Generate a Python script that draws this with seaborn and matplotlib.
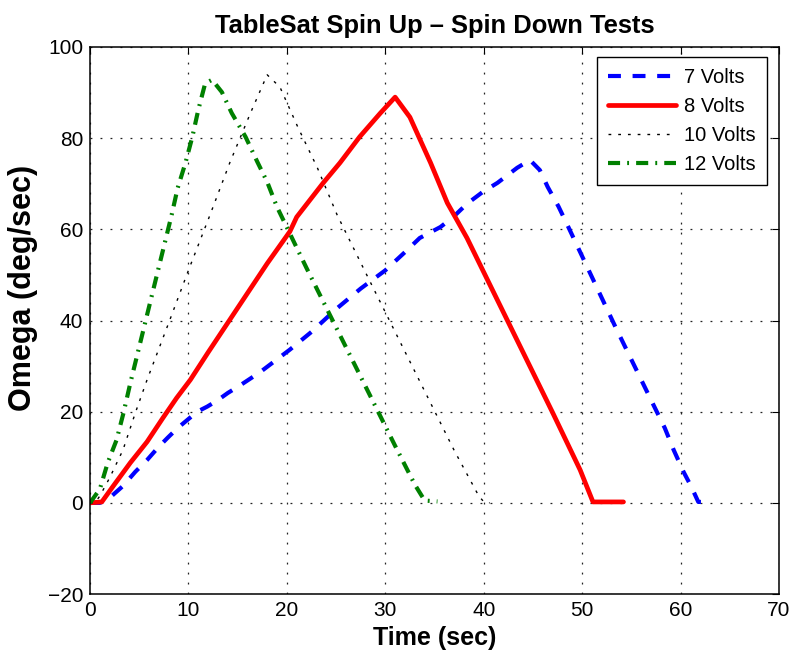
import numpy as np
import pandas as pd
import matplotlib
matplotlib.use("Agg")
import matplotlib.pyplot as plt
import seaborn as sns

# Spin up / spin down runs of the TableSat wheel at four drive voltages
t_7v = [0, 1.0, 2.0, 3.35, 4.6, 5.8, 6.9, 7.9, 8.9, 9.9, 10.9, 11.9, 12.9, 14.0, 15.2,
        17.3, 20.3, 22.5, 25.0, 27.5, 30.0, 32.0, 33.5, 35.6, 36.9, 38.3, 39.9, 41.4,
        43.4, 44.7, 45.7, 46.5, 47.6, 48.6, 53.4, 57.4, 58.4, 59.3, 60.3, 61.1, 61.8, 62.9]
w_7v = [0, 0, 1.1, 3.7, 6.8, 9.4, 12.1, 14.3, 16.4, 18.2, 20.0, 21.1, 22.4, 24.1, 25.7,
        28.7, 33.6, 37.5, 42.5, 47.0, 51.0, 55.0, 58.1, 60.5, 62.7, 65.6, 68.2, 70.2,
        73.5, 75.2, 73.0, 69.3, 65.0, 60.5, 38.5, 20.8, 16.4, 11.6, 6.8, 3.5, 0.2, 0.2]

t_8v = [0, 1.2, 2.3, 4.1, 5.8, 7.4, 8.8, 10.2, 12.0, 14.0, 16.0, 18.0, 20.3, 21.0, 23.7,
        25.4, 27.4, 29.5, 31.0, 32.5, 34.6, 36.3, 38.3, 41.0, 44.0, 47.0, 49.8, 51.1, 54.2]
w_8v = [0, 0.2, 3.5, 8.8, 13.4, 18.6, 23.0, 27.0, 33.0, 39.5, 46.0, 52.5, 59.5, 62.7, 70.2,
        74.6, 80.3, 85.5, 89.0, 84.6, 74.6, 65.8, 58.1, 46.2, 33.0, 19.8, 7.2, 0.2, 0.2]

t_10v = [0, 0.5, 1.0, 2.0, 3.35, 4.6, 5.8, 8.0, 10.0, 12.2, 14.2, 16.3, 18.0, 19.3, 21.1,
         23.1, 25.1, 28.0, 31.0, 34.0, 37.0, 39.5, 40.1, 40.6]
w_10v = [0, 0, 1.5, 5.5, 11.6, 19.7, 27.0, 39.5, 51.0, 63.2, 74.6, 85.5, 93.9, 91.2, 82.5,
         73.5, 63.2, 50.5, 37.5, 24.5, 11.5, 1.5, 0, 0]

t_12v = [0, 0.5, 1.0, 1.8, 2.7, 3.4, 4.1, 6.0, 8.3, 8.9, 9.7, 10.4, 11.0, 11.7, 12.4, 13.4,
         14.4, 15.8, 17.0, 18.0, 19.0, 22.0, 25.0, 28.0, 31.0, 33.0, 34.0, 35.3]
w_12v = [0, 1.5, 3.0, 8.8, 13.8, 19.7, 26.3, 43.0, 63.2, 69.0, 74.6, 80.3, 86.2, 92.0, 92.8,
         90.1, 85.5, 80.3, 74.8, 70.4, 64.9, 51.5, 38.5, 25.5, 12.5, 4.0, 0.5, 0.3]

labels = ["7 Volts", "8 Volts", "10 Volts", "12 Volts"]
x_ticks = [0, 10, 20, 30, 40, 50, 60, 70]
y_ticks = [-20, 0, 20, 40, 60, 80, 100]

sns.set_style("white")
plt.rcParams["font.family"] = ["Liberation Sans", "DejaVu Sans"]
plt.rcParams["axes.unicode_minus"] = True
plt.rcParams["text.color"] = "black"
plt.rcParams["axes.labelcolor"] = "black"
plt.rcParams["xtick.color"] = "black"
plt.rcParams["ytick.color"] = "black"

fig = plt.figure(figsize=(7.99, 6.56), dpi=100)
ax = fig.add_axes([90 / 799, 1 - 594 / 656, 689 / 799, 547 / 656])

styles = [
    dict(color="#0000ff", lw=3.0, ls=(0, (3.1, 2.8))),
    dict(color="#ff0000", lw=3.4, ls="-"),
    dict(color="#000000", lw=1.0, ls=(0, (2.0, 5.0))),
    dict(color="#008000", lw=3.0, ls=(0, (2.9, 1.7, 0.45, 1.7))),
]
series = [(t_7v, w_7v), (t_8v, w_8v), (t_10v, w_10v), (t_12v, w_12v)]

for (t, w), lab, st in zip(series, labels, styles):
    df = pd.DataFrame({"Time": t, "Omega": w})
    sns.lineplot(data=df, x="Time", y="Omega", ax=ax, label=lab,
                 estimator=None, sort=False, **st)

ax.set_xlim(0, 70)
ax.set_ylim(-20, 100)
ax.set_xticks(x_ticks)
ax.set_yticks(y_ticks)
ax.tick_params(direction="in", length=5, width=0.8, top=True, right=True,
               labelsize=15, pad=5, colors="black", labelcolor="black")

ax.grid(True, color="#222222", linestyle=(0, (1.5, 6.5)), linewidth=0.9)
for sp in ax.spines.values():
    sp.set_visible(True)
    sp.set_color("black")
    sp.set_linewidth(1.1)

ax.set_title("TableSat Spin Up \u2013 Spin Down Tests", fontsize=18.4,
             fontweight="bold", pad=10, color="black")
ax.set_xlabel("Time (sec)", fontsize=18, fontweight="bold", labelpad=4, color="black")
ax.set_ylabel("Omega (deg/sec)", fontsize=22, fontweight="bold", color="black")
ax.yaxis.set_label_coords(-0.076, 0.56)

leg = ax.legend(loc="upper right", bbox_to_anchor=(0.9826, 0.9817), borderaxespad=0,
                fontsize=14.5, frameon=True, fancybox=False, framealpha=1,
                edgecolor="black", handlelength=3.4, handletextpad=0.4,
                labelspacing=0.5, borderpad=0.55)
leg.get_frame().set_linewidth(1.0)
for txt in leg.get_texts():
    txt.set_color("black")

fig.savefig("out.png", dpi=100)
